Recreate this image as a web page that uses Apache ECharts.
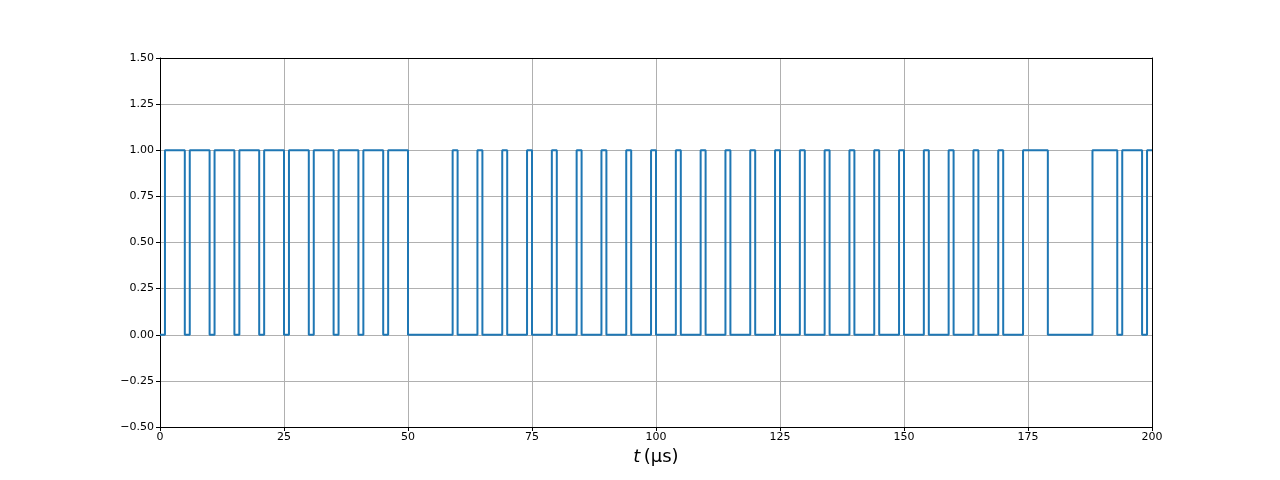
<!DOCTYPE html>
<html>
<head>
<meta charset="utf-8">
<script src="https://cdn.jsdelivr.net/npm/echarts@6/dist/echarts.min.js"></script>
<style>html,body{margin:0;padding:0;background:#fff;}#c{width:1280px;height:480px;}</style>
</head>
<body>
<div id="c"></div>
<script>
// Transition times (µs) and signal level held from each time onward
const times = [0,1,5,6,10,11,15,16,20,21,25,26,30,31,35,36,40,41,45,46,50,
  59,60,64,65,69,70,74,75,79,80,84,85,89,90,94,95,99,100,104,105,109,110,114,115,
  119,120,124,125,129,130,134,135,139,140,144,145,149,150,154,155,159,160,164,165,169,170,
  174,179,188,193,194,198,199,200];
const levels = [0,1,0,1,0,1,0,1,0,1,0,1,0,1,0,1,0,1,0,1,0,
  1,0,1,0,1,0,1,0,1,0,1,0,1,0,1,0,1,0,1,0,1,0,1,0,
  1,0,1,0,1,0,1,0,1,0,1,0,1,0,1,0,1,0,1,0,1,0,
  1,0,1,0,1,0,1,1];
const xTicks = [0,25,50,75,100,125,150,175,200];
const yTicks = [-0.5,-0.25,0,0.25,0.5,0.75,1,1.25,1.5];

const data = times.map((t,i)=>[t, levels[i]]);
const chart = echarts.init(document.getElementById('c'));
const font = 'DejaVu Sans';
const xmin = xTicks[0], xmax = xTicks[xTicks.length-1];
const ymin = yTicks[0], ymax = yTicks[yTicks.length-1];
const frameAxis = {
  axisLine:{show:true,onZero:false,lineStyle:{color:'#000',width:1}},
  axisTick:{show:false},axisLabel:{show:false},splitLine:{show:false}
};
chart.setOption({
  animation:false,
  backgroundColor:'#fff',
  grid:{left:160,right:128,top:58,bottom:53,show:false},
  xAxis:[{
    type:'value',min:xmin,max:xmax,interval:25,
    name:'{i|t} {n|(μs)}',nameLocation:'middle',nameGap:20,
    nameTextStyle:{rich:{i:{fontStyle:'italic',fontSize:18,fontFamily:font,color:'#000'},n:{fontSize:18,fontFamily:font,color:'#000'}}},
    axisLine:{show:true,onZero:false,lineStyle:{color:'#000',width:1}},
    axisTick:{show:true,length:4,lineStyle:{color:'#000'}},
    axisLabel:{color:'#000',fontSize:11,fontFamily:font,margin:5},
    splitLine:{show:true,lineStyle:{color:'#b0b0b0',width:1}},
    z:1
  },Object.assign({type:'value',position:'top',min:xmin,max:xmax,interval:25,z:5},frameAxis)],
  yAxis:[{
    type:'value',min:ymin,max:ymax,interval:0.25,
    axisLine:{show:true,onZero:false,lineStyle:{color:'#000',width:1}},
    axisTick:{show:true,length:4,lineStyle:{color:'#000'}},
    axisLabel:{color:'#000',fontSize:11,fontFamily:font,margin:6,
      formatter:v=>(v<0?'\u2212':'')+Math.abs(v).toFixed(2)},
    splitLine:{show:true,lineStyle:{color:'#b0b0b0',width:1}},
    z:1
  },Object.assign({type:'value',position:'right',min:ymin,max:ymax,interval:0.25,z:5},frameAxis)],
  series:[{
    type:'line',step:'end',data:data,showSymbol:false,symbol:'none',
    xAxisIndex:0,yAxisIndex:0,
    lineStyle:{color:'#1f77b4',width:2},
    itemStyle:{color:'#1f77b4'},
    z:3
  }]
});
</script>
</body>
</html>
